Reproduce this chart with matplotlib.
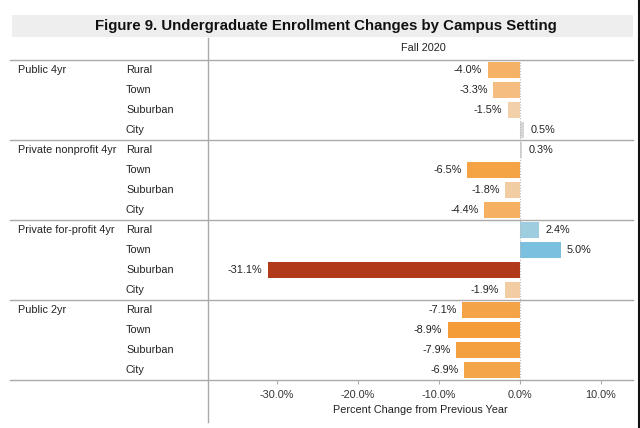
import matplotlib
matplotlib.use("Agg")
import matplotlib.pyplot as plt
from matplotlib.lines import Line2D
from matplotlib.patches import Rectangle

plt.rcParams['font.family'] = ['Liberation Sans', 'DejaVu Sans']

groups = ["Public 4yr", "Private nonprofit 4yr", "Private for-profit 4yr", "Public 2yr"]
settings = ["Rural", "Town", "Suburban", "City"]
values = [
    [-4.0, -3.3, -1.5, 0.5],
    [0.3, -6.5, -1.8, -4.4],
    [2.4, 5.0, -31.1, -1.9],
    [-7.1, -8.9, -7.9, -6.9],
]
colors = [
    ["#F5B266", "#F5BE80", "#F2D0AA", "#D6D6D6"],
    ["#D6D6D6", "#F4A444", "#F2CDA4", "#F5B062"],
    ["#9ECDE0", "#7CC0E0", "#B03A1A", "#F2CCA3"],
    ["#F4A446", "#F49C38", "#F4A040", "#F4A548"],
]
xticks = [-30, -20, -10, 0, 10]
xtick_labels = ["-30.0%", "-20.0%", "-10.0%", "0.0%", "10.0%"]

W, H = 640, 428
FS = 7.8
fig = plt.figure(figsize=(W / 100, H / 100), dpi=100)

def fx(px):
    return px / W

def fy(py):
    return 1 - py / H

# title band
fig.patches.append(Rectangle((fx(12), fy(37)), fx(633) - fx(12), fy(15) - fy(37),
                             transform=fig.transFigure, facecolor="#EEEEEE",
                             edgecolor="none", zorder=0))
fig.text(fx(326), fy(26), "Figure 9. Undergraduate Enrollment Changes by Campus Setting",
         ha="center", va="center", fontsize=10.8, fontweight="bold", color="#111111")

ax = fig.add_axes([fx(208), fy(380), fx(633) - fx(208), fy(60) - fy(380)])
ax.set_xlim(-312 / 8.1, 113 / 8.1)
ax.set_ylim(16, 0)

for gi, g in enumerate(groups):
    for si, s in enumerate(settings):
        row = gi * 4 + si
        v = values[gi][si]
        ax.barh(row + 0.5, v, height=0.78, color=colors[gi][si], edgecolor="none", zorder=2)
        lab = f"{v:.1f}%"
        if v < 0:
            ax.annotate(lab, (v, row + 0.5), xytext=(-4, 0), textcoords="offset points",
                        ha="right", va="center", fontsize=FS, color="#222222")
        else:
            ax.annotate(lab, (v, row + 0.5), xytext=(4.5, 0), textcoords="offset points",
                        ha="left", va="center", fontsize=FS, color="#222222")
        fig.text(fx(126), fy(70 + row * 20), s, ha="left", va="center",
                 fontsize=FS, color="#222222")
    fig.text(fx(18), fy(70 + gi * 80), g, ha="left", va="center",
             fontsize=FS, color="#222222")

ax.axvline(0, color="#BBBBBB", lw=0.8, ls=(0, (1, 1.5)), zorder=3)

for sp in ax.spines.values():
    sp.set_visible(False)
ax.set_yticks([])
ax.set_xticks(xticks)
ax.set_xticklabels(xtick_labels, fontsize=FS, color="#333333")
ax.tick_params(axis="x", length=3, color="#AAAAAA", pad=4)
ax.set_xlabel("Percent Change from Previous Year", fontsize=FS, color="#222222", labelpad=4)
ax.set_facecolor("none")

# separator lines
for py in [60, 140, 220, 300, 380]:
    fig.add_artist(Line2D([fx(10), fx(633)], [fy(py), fy(py)], transform=fig.transFigure,
                          color="#AAAAAA", lw=1))
fig.add_artist(Line2D([fx(208), fx(208)], [fy(38), fy(422)], transform=fig.transFigure,
                      color="#AAAAAA", lw=1))
fig.add_artist(Line2D([fx(638.5), fx(638.5)], [0, 1], transform=fig.transFigure,
                      color="#111111", lw=1.5))

fig.text(fx(423), fy(48), "Fall 2020", ha="center", va="center", fontsize=FS, color="#222222")

fig.savefig("out.png", dpi=100)
